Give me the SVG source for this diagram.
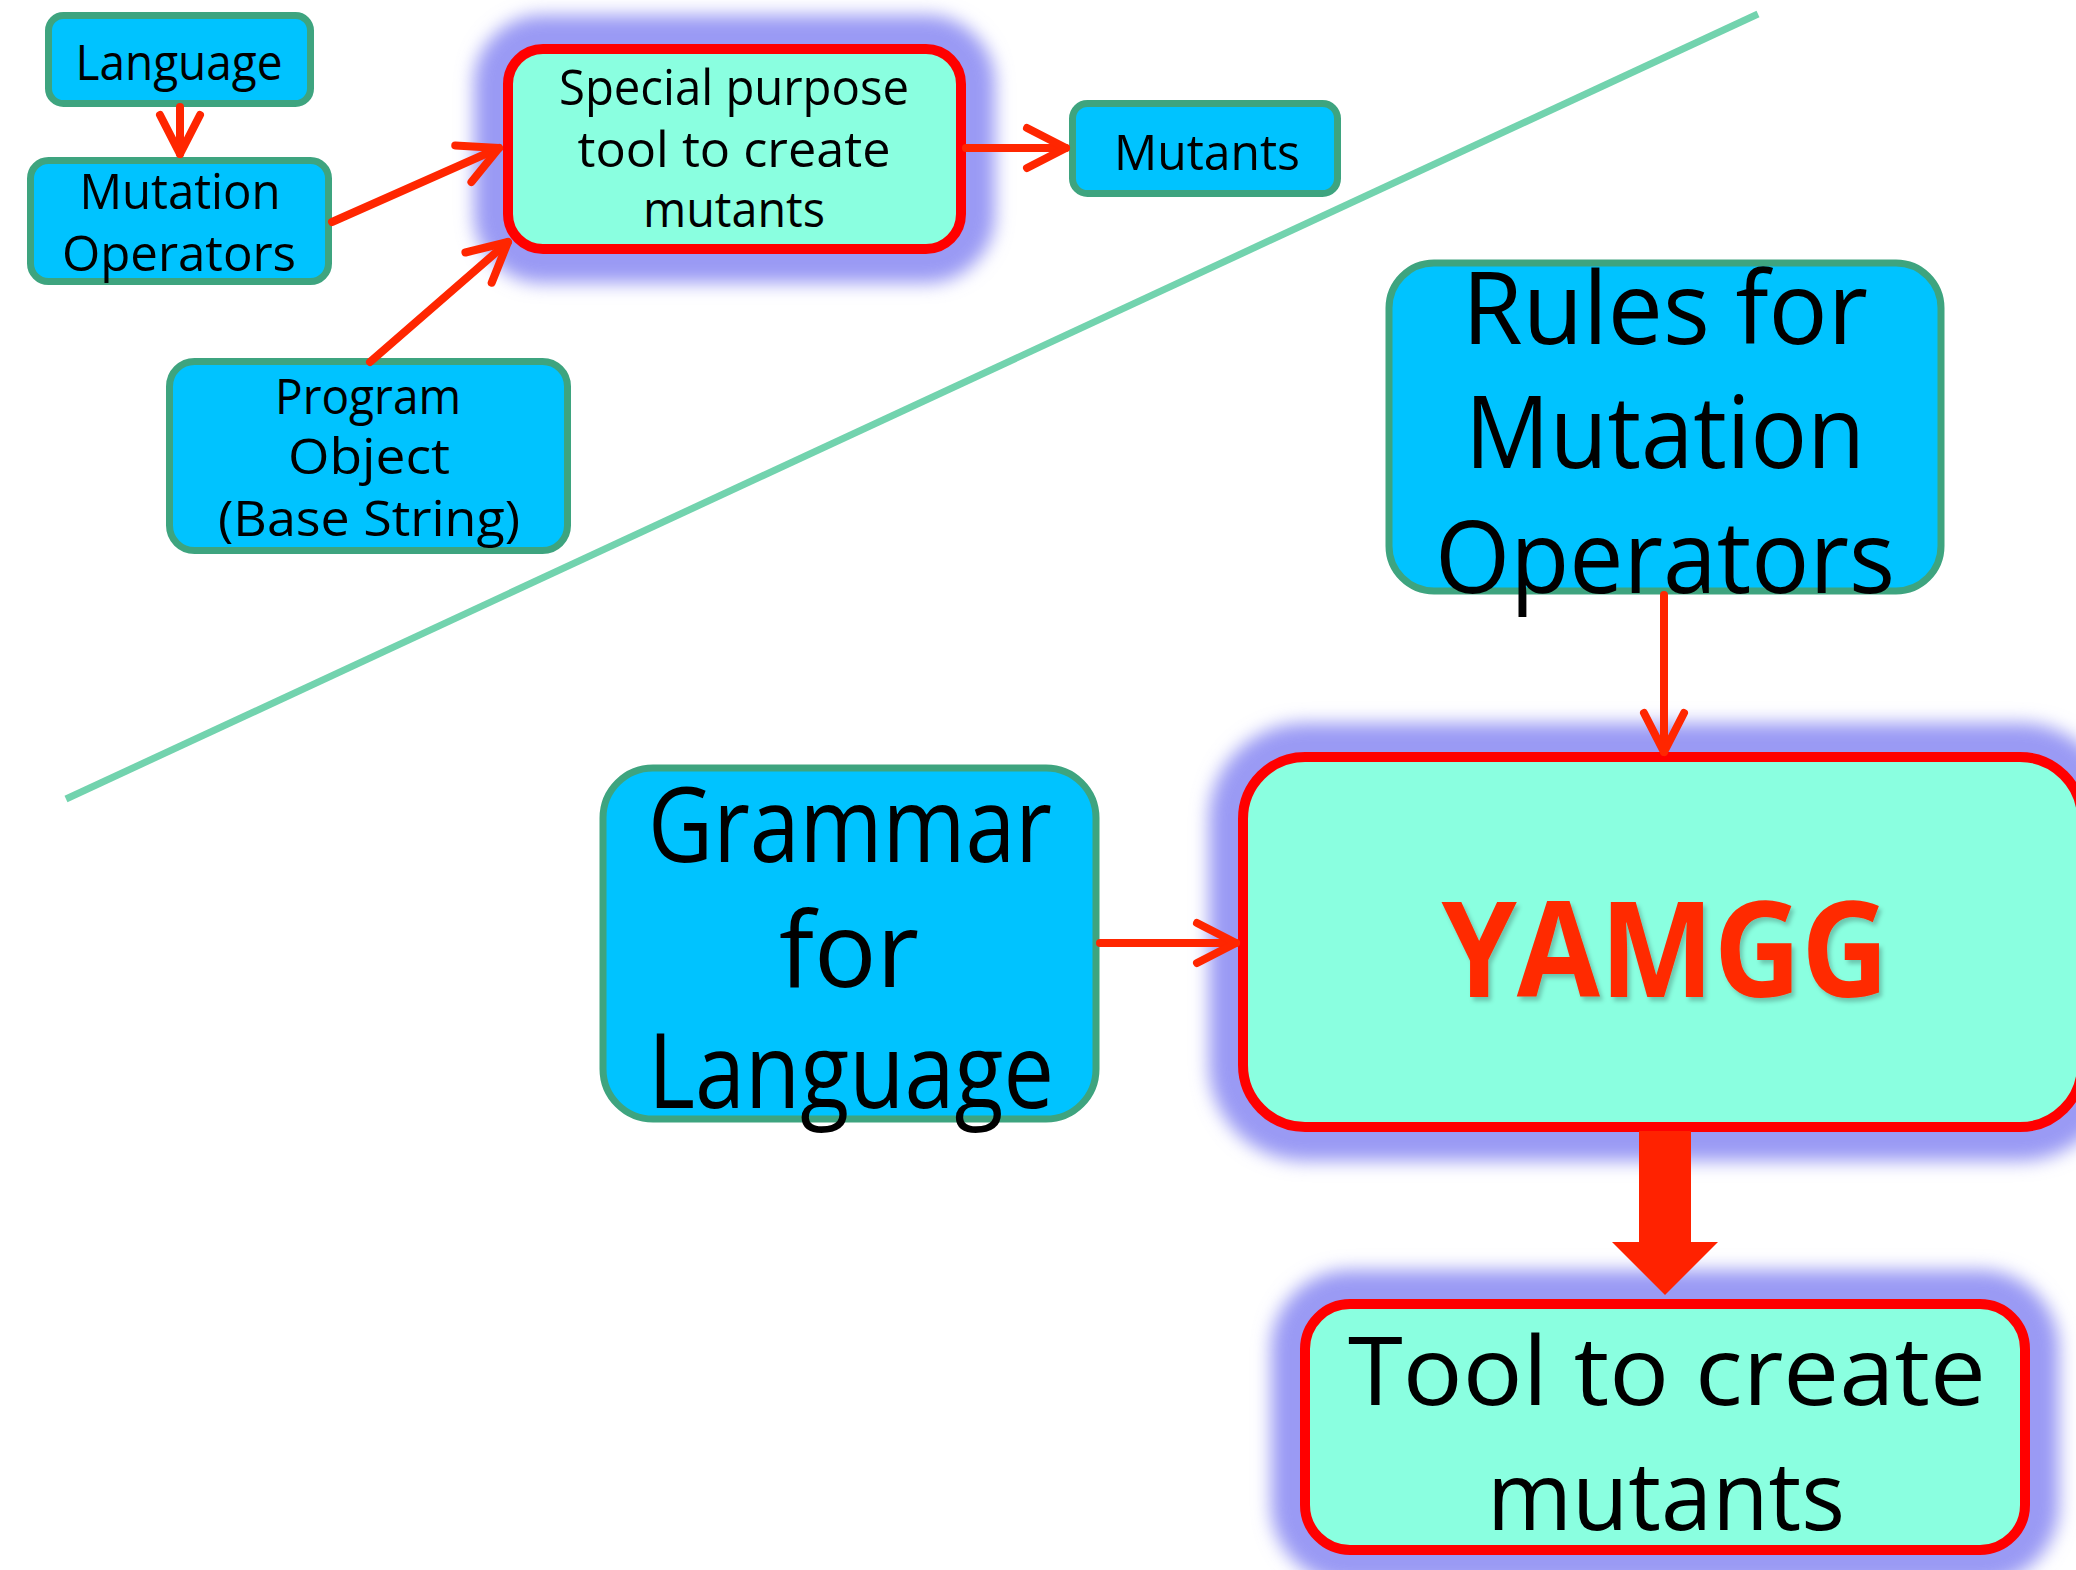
<svg xmlns="http://www.w3.org/2000/svg" width="2076" height="1570" viewBox="0 0 2076 1570">
  <style>
    .inp { fill: #00C3FF; stroke: #3EA47F; stroke-width: 7; }
    .tool { fill: #8AFFE0; stroke: #FF0000; stroke-width: 10; }
    .halo { fill: #9A9AF4; stroke: #9A9AF4; stroke-width: 68; }
    .lbl { font-family: "Open Sans", "DejaVu Sans", sans-serif; fill: #000; text-anchor: middle; }
    .s { font-size: 49px; }
    .l { font-size: 101px; }
    .link { stroke: #FF2600; stroke-width: 8; fill: none; stroke-linecap: round; }
    .head { stroke: #FF2600; stroke-width: 8; fill: none; stroke-linecap: round; stroke-linejoin: round; }
  </style>
  <defs>
    <filter id="glow" x="-40%" y="-80%" width="180%" height="260%">
      <feGaussianBlur stdDeviation="9"/>
    </filter>
    <filter id="shade" x="-10%" y="-10%" width="130%" height="130%">
      <feDropShadow dx="3" dy="4" stdDeviation="2" flood-color="#000" flood-opacity="0.22"/>
    </filter>
    <marker id="vee" markerUnits="userSpaceOnUse" viewBox="-48 -28 56 56" markerWidth="56" markerHeight="56" refX="0" refY="0" orient="auto">
      <path class="head" d="M-39,-20 L0,0 L-39,20"/>
    </marker>
  </defs>

  <rect width="2076" height="1570" fill="#FFFFFF"/>

  <!-- divider between the hand-built approach and the generated one -->
  <line x1="66" y1="799" x2="1758" y2="14" stroke="#72D3AE" stroke-width="7"/>

  <!-- small input boxes -->
  <g id="language">
    <rect class="inp" x="48.5" y="15.5" width="262" height="88" rx="15"/>
    <text class="lbl s" x="179" y="80" textLength="207" lengthAdjust="spacingAndGlyphs">Language</text>
  </g>
  <g id="mutation-operators">
    <rect class="inp" x="30.5" y="160.5" width="298" height="121" rx="18"/>
    <text class="lbl s" x="180" y="209" textLength="201" lengthAdjust="spacingAndGlyphs">Mutation</text>
    <text class="lbl s" x="179" y="271" textLength="234" lengthAdjust="spacingAndGlyphs">Operators</text>
  </g>
  <g id="program-object">
    <rect class="inp" x="169.5" y="361.5" width="398" height="189" rx="25"/>
    <text class="lbl s" x="368" y="414" textLength="186" lengthAdjust="spacingAndGlyphs">Program</text>
    <text class="lbl s" x="369" y="474" textLength="162" lengthAdjust="spacingAndGlyphs">Object</text>
    <text class="lbl s" x="369" y="536" textLength="302" lengthAdjust="spacingAndGlyphs">(Base String)</text>
  </g>

  <!-- special purpose tool -->
  <g id="special-tool">
    <rect class="halo" x="508" y="49" width="453" height="200" rx="35" filter="url(#glow)"/>
    <rect class="tool" x="508" y="49" width="453" height="200" rx="35"/>
    <text class="lbl s" x="734" y="105" textLength="350" lengthAdjust="spacingAndGlyphs">Special purpose</text>
    <text class="lbl s" x="734" y="167" textLength="313" lengthAdjust="spacingAndGlyphs">tool to create</text>
    <text class="lbl s" x="734" y="227" textLength="182" lengthAdjust="spacingAndGlyphs">mutants</text>
  </g>

  <g id="mutants">
    <rect class="inp" x="1072.5" y="103.5" width="265" height="90" rx="15"/>
    <text class="lbl s" x="1207" y="170" textLength="186" lengthAdjust="spacingAndGlyphs">Mutants</text>
  </g>

  <!-- generator inputs -->
  <g id="rules">
    <rect class="inp" x="1389" y="263" width="552" height="328" rx="45" stroke-width="8"/>
    <text class="lbl l" x="1665" y="344" textLength="406" lengthAdjust="spacingAndGlyphs">Rules for</text>
    <text class="lbl l" x="1665" y="468" textLength="400" lengthAdjust="spacingAndGlyphs">Mutation</text>
    <text class="lbl l" x="1665" y="593" textLength="460" lengthAdjust="spacingAndGlyphs">Operators</text>
  </g>
  <g id="grammar">
    <rect class="inp" x="603" y="768" width="493" height="351" rx="50" stroke-width="8"/>
    <text class="lbl" font-size="105" x="850" y="862" textLength="404" lengthAdjust="spacingAndGlyphs">Grammar</text>
    <text class="lbl" font-size="105" x="849" y="987" textLength="140" lengthAdjust="spacingAndGlyphs">for</text>
    <text class="lbl" font-size="105" x="851" y="1108" textLength="406" lengthAdjust="spacingAndGlyphs">Language</text>
  </g>

  <!-- generator -->
  <g id="yamgg">
    <rect class="halo" x="1243" y="757" width="839" height="370" rx="62" filter="url(#glow)"/>
    <rect class="tool" x="1243" y="757" width="839" height="370" rx="62"/>
    <text class="lbl" font-size="133" font-weight="bold" style="fill:#FF2A00" x="1665" y="997" textLength="447" lengthAdjust="spacingAndGlyphs" filter="url(#shade)">YAMGG</text>
  </g>

  <!-- generated tool -->
  <g id="generated-tool">
    <rect class="halo" x="1305" y="1304" width="720" height="246" rx="45" filter="url(#glow)"/>
    <rect class="tool" x="1305" y="1304" width="720" height="246" rx="45"/>
    <text class="lbl" font-size="95" x="1667" y="1405" textLength="638" lengthAdjust="spacingAndGlyphs">Tool to create</text>
    <text class="lbl" font-size="95" x="1666" y="1530" textLength="358" lengthAdjust="spacingAndGlyphs">mutants</text>
  </g>

  <!-- connectors, drawn over the glow -->
  <g id="connectors">
    <line class="link" x1="180" y1="107" x2="180" y2="154" marker-end="url(#vee)"/>
    <line class="link" x1="332" y1="222" x2="499" y2="148" marker-end="url(#vee)"/>
    <line class="link" x1="370" y1="362" x2="508" y2="242" marker-end="url(#vee)"/>
    <line class="link" x1="966" y1="148" x2="1066" y2="148" marker-end="url(#vee)"/>
    <line class="link" x1="1100" y1="943" x2="1236" y2="943" marker-end="url(#vee)"/>
    <line class="link" x1="1664" y1="595" x2="1664" y2="752" stroke-linecap="butt" marker-end="url(#vee)"/>
    <polygon points="1639,1131 1691,1131 1691,1242 1718,1242 1665,1295 1612,1242 1639,1242" fill="#FF2200"/>
  </g>
</svg>
